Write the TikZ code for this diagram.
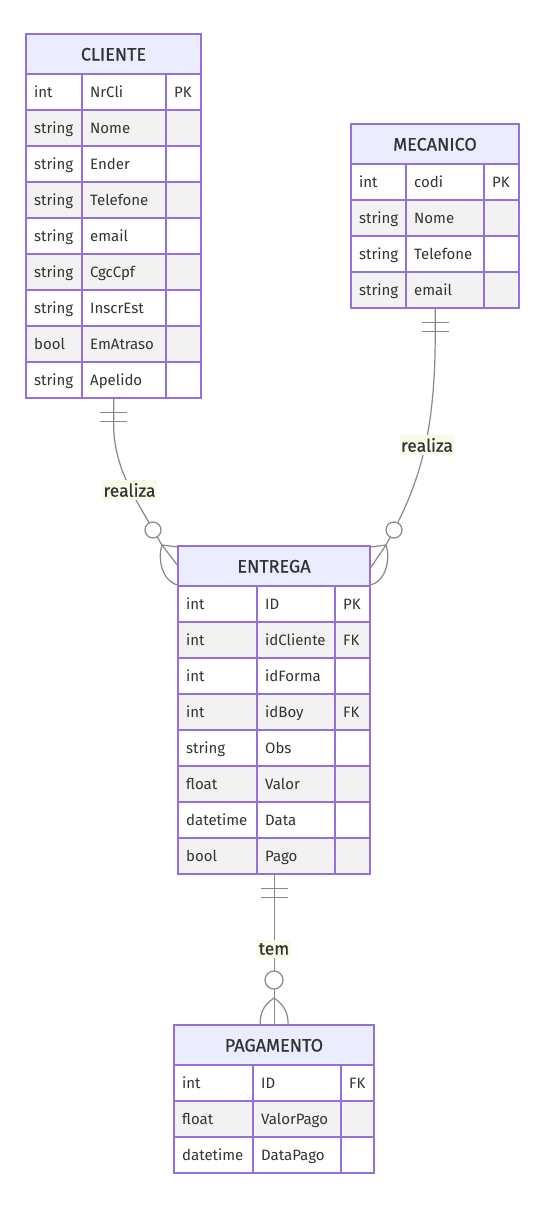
\documentclass[tikz,border=0pt]{standalone}
\usepackage{fontspec}
\setmainfont{Fira Sans}
\newfontfamily\ermedium[FakeBold=0.7]{Fira Sans}
\definecolor{erborder}{HTML}{9370DB}
\definecolor{erhead}{HTML}{ECECFF}
\definecolor{errow}{HTML}{F2F2F2}
\definecolor{ertext}{HTML}{333333}
\definecolor{erline}{HTML}{888888}
\definecolor{erlabel}{HTML}{F7FBE8}
\tikzset{
  cellbox/.style={draw=erborder, line width=1.4pt},
  attrtext/.style={anchor=base west, inner sep=0pt, text=ertext, font=\fontsize{15}{17}\selectfont},
  headtext/.style={anchor=base, inner sep=0pt, text=ertext, font=\ermedium\fontsize{18}{20}\selectfont},
  rel/.style={draw=erline, line width=1.2pt},
  relmark/.style={draw=erline, line width=1.2pt, fill=white},
  rellabel/.style={fill=erlabel, text=ertext, inner xsep=1.5pt, inner ysep=3pt, font=\ermedium\fontsize{17.5}{19}\selectfont},
}
% #1 name, #2 title, #3 x0, #4 c1, #5 c2, #6 x1, #7 ytop, #8 rows
\newcommand\erentity[8]{%
  \draw[cellbox, fill=erhead] (#3,#7) rectangle (#6,#7+40);
  \node[headtext] (#1-title) at ({(#3+#6)/2},#7+26.5) {#2};
  \foreach [count=\i] \ta/\tb/\tc in {#8} {
    \pgfmathsetmacro\ya{#7+40+36*(\i-1)}
    \pgfmathsetmacro\yb{\ya+36}
    \pgfmathtruncatemacro\odd{mod(\i,2)}
    \ifnum\odd=1 \def\rc{white}\else\def\rc{errow}\fi
    \draw[cellbox, fill=\rc] (#3,\ya) rectangle (#4,\yb);
    \draw[cellbox, fill=\rc] (#4,\ya) rectangle (#5,\yb);
    \draw[cellbox, fill=\rc] (#5,\ya) rectangle (#6,\yb);
    \node[attrtext] (#1-t\i) at (#3+8,\ya+23.5) {\ta};
    \node[attrtext] (#1-n\i) at (#4+8,\ya+23.5) {\tb};
    \node[attrtext] (#1-k\i) at (#5+8,\ya+23.5) {\tc};
    \xdef\erbottom{\yb}
  }
  \draw[cellbox] (#3,#7) rectangle (#6,\erbottom);
  \node[inner sep=0pt, minimum width={#6-#3}, minimum height={\erbottom-#7}, anchor=north west] (#1) at (#3,#7) {};
}
\begin{document}
\begin{tikzpicture}[x=1pt,y=-1pt]
\useasboundingbox[fill=white] (0,0) rectangle (557,1205);

\erentity{cliente}{CLIENTE}{26}{82}{166}{201}{34}{int/NrCli/PK, string/Nome/{}, string/Ender/{}, string/Telefone/{}, string/email/{}, string/CgcCpf/{}, string/InscrEst/{}, bool/EmAtraso/{}, string/Apelido/{}}
\erentity{mecanico}{MECANICO}{351}{406}{484}{519}{124}{int/codi/PK, string/Nome/{}, string/Telefone/{}, string/email/{}}
\erentity{entrega}{ENTREGA}{178}{257}{335}{370}{546}{int/ID/PK, int/idCliente/FK, int/idForma/{}, int/idBoy/FK, string/Obs/{}, float/Valor/{}, datetime/Data/{}, bool/Pago/{}}
\erentity{pagamento}{PAGAMENTO}{174}{253}{341}{374}{1025}{int/ID/FK, float/ValorPago/{}, datetime/DataPago/{}}

% named points for the markers
\coordinate (lcirc) at (153,530);
\coordinate (ltip) at (162,545);
\coordinate (rcirc) at (394,530);
\coordinate (rtip) at (386,545);
\coordinate (bcirc) at (274,980);
\coordinate (btip) at (274,998);

% CLIENTE -> ENTREGA
\draw[rel] (cliente.south) -- ++(0,27) .. controls +(0,45) and (140,505) .. (lcirc) -- (ltip);
\draw[rel] ([xshift=-13.5pt,yshift=-14pt]cliente.south) -- ++(27,0);
\draw[rel] ([xshift=-13.5pt,yshift=-23pt]cliente.south) -- ++(27,0);
\draw[relmark] (lcirc) circle (8);
\draw[rel] (ltip) -- ([yshift=-1pt]entrega.north west);
\draw[rel] (ltip) -- ([yshift=-20pt]entrega.north west);
\draw[rel] (ltip) .. controls (157,560) and (163,582) .. ([yshift=-39pt]entrega.north west);
\node[rellabel] (lab1) at (129.5,490) {realiza};

% MECANICO -> ENTREGA
\draw[rel] (mecanico.south) -- ++(0,27) .. controls +(0,95) and (420,480) .. (rcirc) -- (rtip);
\draw[rel] ([xshift=-13.5pt,yshift=-14pt]mecanico.south) -- ++(27,0);
\draw[rel] ([xshift=-13.5pt,yshift=-23pt]mecanico.south) -- ++(27,0);
\draw[relmark] (rcirc) circle (8);
\draw[rel] (rtip) -- ([yshift=-1pt]entrega.north east);
\draw[rel] (rtip) -- ([yshift=-22pt]entrega.north east);
\draw[rel] (rtip) .. controls (391,560) and (385,582) .. ([yshift=-39pt]entrega.north east);
\node[rellabel] (lab2) at (427,445) {realiza};

% ENTREGA -> PAGAMENTO
\draw[rel] (entrega.south) -- (pagamento.north);
\draw[rel] ([xshift=-13.5pt,yshift=-14pt]entrega.south) -- ++(27,0);
\draw[rel] ([xshift=-13.5pt,yshift=-23pt]entrega.south) -- ++(27,0);
\draw[relmark] (bcirc) circle (9);
\draw[rel] (btip) .. controls (262,1006) and (260,1015) .. ([xshift=-14pt]pagamento.north);
\draw[rel] (btip) .. controls (286,1006) and (288,1015) .. ([xshift=14pt]pagamento.north);
\node[rellabel] (lab3) at (274,949) {tem};

% redraw entity borders where markers touch
\draw[cellbox] (entrega.north west) -- (entrega.south west);
\draw[cellbox] (entrega.north east) -- (entrega.south east);
\draw[cellbox] (pagamento.north west) -- (pagamento.north east);
\end{tikzpicture}
\end{document}
